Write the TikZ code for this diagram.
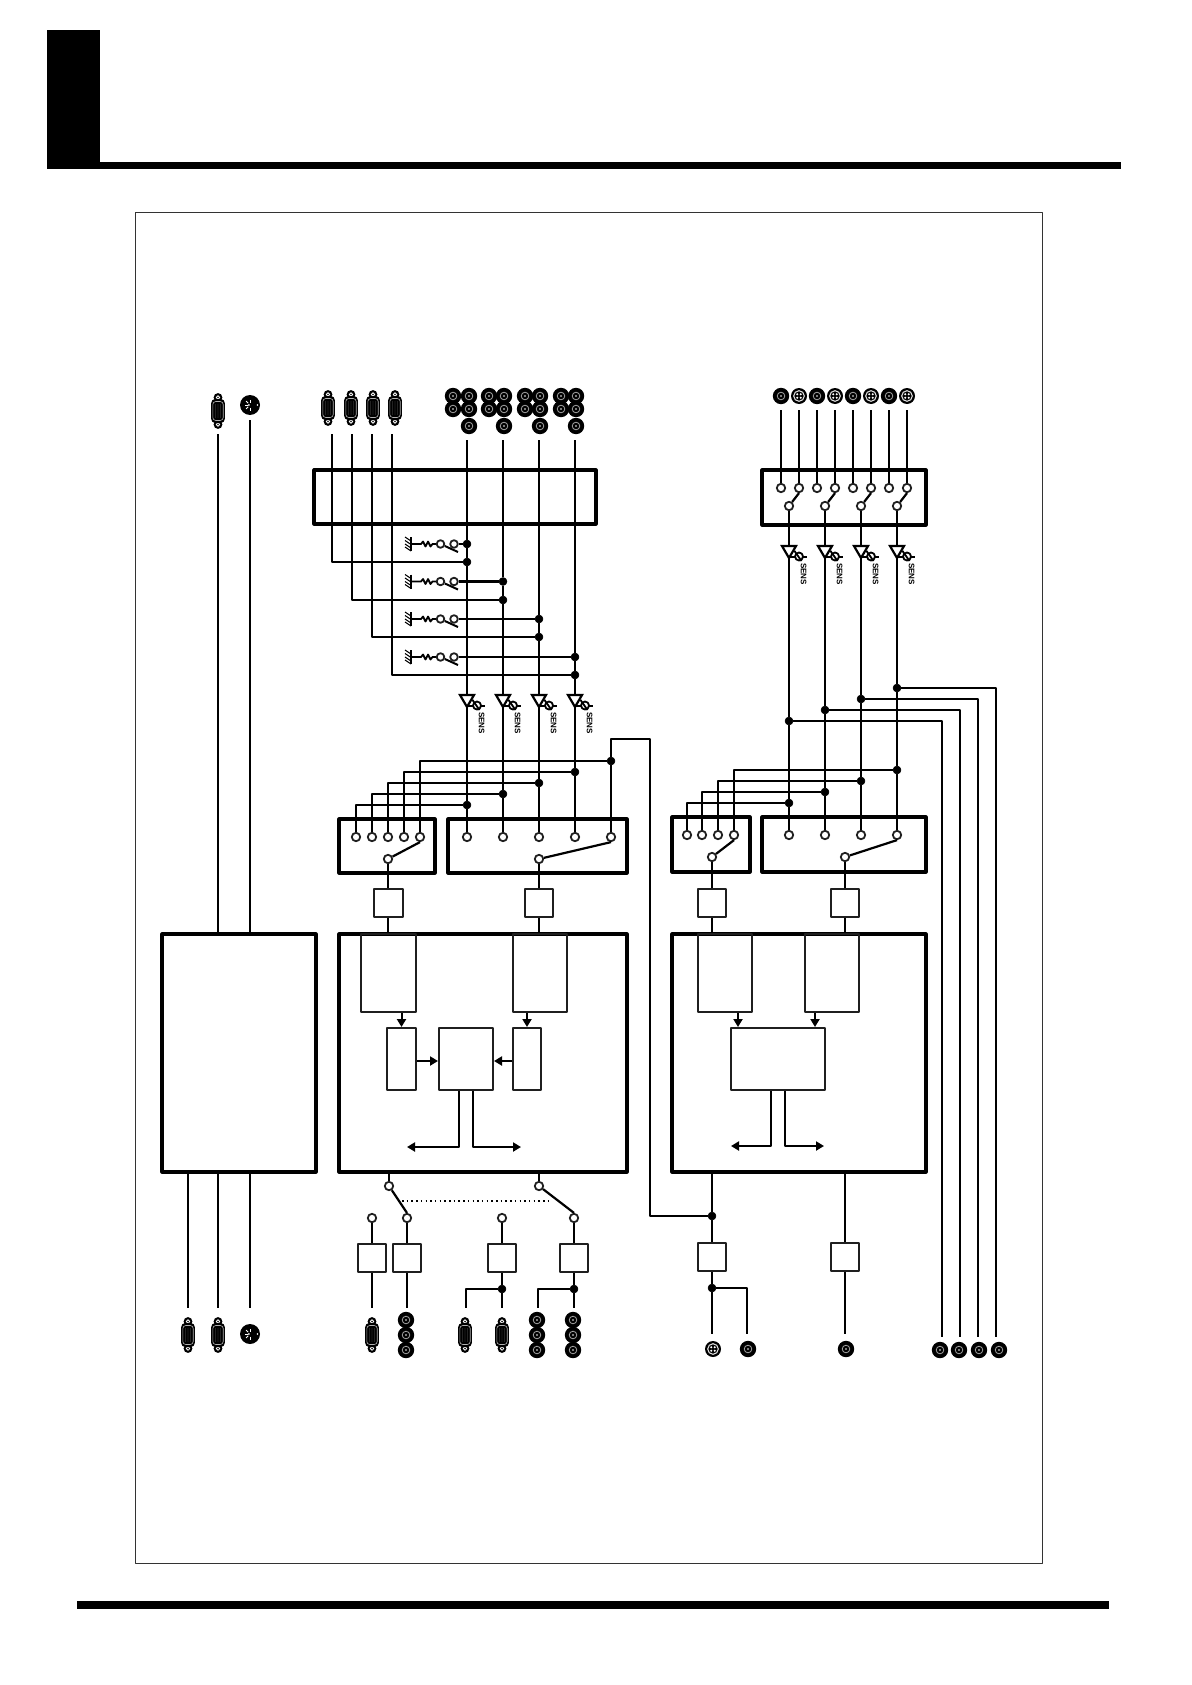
\documentclass[tikz,border=0pt]{standalone}
\usepackage{fontspec}
\setmainfont{Liberation Sans}
\usetikzlibrary{arrows.meta,calc}

\tikzset{
  wire/.style={line width=2.2pt},
  frame/.style={draw, line width=3.2pt, inner sep=0pt, line join=round},
  block/.style={draw=black!88, line width=2pt, inner sep=0pt},
  term/.style={circle, draw=black!88, line width=1.8pt, fill=white, inner sep=0pt, minimum size=8.4pt},
  dot/.style={circle, draw=black, fill=black, line width=.5pt, inner sep=0pt, minimum size=8pt},
  flow/.style={line width=2pt, -{Triangle[length=8pt,width=9pt]}},
  pics/dsub/.style={code={
    \fill (0,-13.5) circle (4.4); \fill (0,13.5) circle (4.4);
    \draw[white, line width=.8pt] (0,-13.5) circle (1.8); \draw[white, line width=.8pt] (0,13.5) circle (1.8);
    \fill[rounded corners=4pt] (-6.8,-12) rectangle (6.8,12);
    \draw[gray!60, line width=.6pt, rounded corners=3pt] (-5.2,-9.5) rectangle (5.2,9.5);
    \foreach \u in {-2.5,0,2.5} \foreach \v in {-6,-4,...,6} \fill[gray!80] (\u,\v) circle (.45);
  }},
  pics/midi/.style={code={
    \fill (0,0) circle (10);
    \foreach \a in {90,135,180,225,270} \draw[white, line width=1pt] (\a:2.5) -- (\a:5.5);
    \fill[white] (-1.2,0) circle (1);
    \fill[white] (7.5,0) circle (.8);
  }},
  pics/bnc/.style={code={
    \fill (0,0) circle (8.2);
    \draw[gray!70!white, line width=.8pt] (0,0) circle (3.8);
    \fill[gray!70!white] (0,0) circle (1.1);
  }},
  pics/combo/.style={code={
    \fill (0,0) circle (8);
    \draw[white!85!black, line width=1.1pt] (0,0) circle (5.3);
    \foreach \a in {45,135,225,315} \fill[white] (\a:2.5) circle (1.1);
  }},
  pics/sens/.style={code={
    % triangle points down, apex at 12 below the top edge
    \draw[wire, fill=white, line join=miter] (-7,0) -- (7,0) -- (0,12) -- cycle;
    \coordinate (-in) at (0,0);
    \coordinate (-out) at (0,12);
    \draw[line width=1.8pt] (0,11) -- (18,11);
    \draw[line width=1.8pt, fill=white] (10,10.5) circle (4);
    \draw[line width=1.8pt] (5.5,5) -- (12.5,15);
    \node[rotate=-90, font=\bfseries\fontsize{8}{9}\selectfont, inner sep=0pt] at (14.5,28) {SENS};
  }},
  pics/contact/.style={code={
    % ground hatch, spring and open contact
    \draw[line width=1.8pt, fill=gray!60] (0,-7) -- (0,7);
    \foreach \v in {-3,0.5,4,7} \draw[line width=1.1pt] (0,\v) -- (-6,\v-4);
    \draw[line width=1.8pt] (0,0) -- (10,0) -- ++(2,-2.5) -- ++(2.5,5) -- ++(2.5,-5) -- ++(2.5,5) -- ++(2,-2.5) -- (25.5,0);
    \node[term, minimum size=7.6pt] (-l) at (29.5,0) {};
    \node[term, minimum size=7.6pt] (-r) at (43,0) {};
    \draw[line width=2pt] (-l) -- (47,8);
  }},
}

\begin{document}
\begin{tikzpicture}[x=1pt, y=-1pt, line cap=butt, line join=round]
\useasboundingbox (0,0) rectangle (1191,1685);

% ---------- page furniture ----------
\fill (47,30) rectangle (100,168);
\fill (47,162) rectangle (1121,169);
\fill (77,1601) rectangle (1109,1609);
\draw[line width=.8pt, black!80] (135,212) rectangle (1042,1563);

% ---------- main boxes ----------
\node[frame, minimum width=154pt, minimum height=238pt] (ctrl) at (239,1053) {};
\node[frame, minimum width=282pt, minimum height=54pt] (patch) at (455,497) {};
\node[frame, minimum width=164pt, minimum height=55pt] (patchb) at (844,497.5) {};
\node[frame, minimum width=96pt, minimum height=54pt] (sela) at (387,846) {};
\node[frame, minimum width=179pt, minimum height=54pt] (selb) at (537.5,846) {};
\node[frame, minimum width=78pt, minimum height=55pt] (selc) at (711,844.5) {};
\node[frame, minimum width=164pt, minimum height=55pt] (seld) at (844,844.5) {};
\node[frame, minimum width=288pt, minimum height=238pt] (dspa) at (483,1053) {};
\node[frame, minimum width=254pt, minimum height=238pt] (dspb) at (799,1053) {};

% ---------- blocks inside first dsp ----------
\node[block, minimum width=55pt, minimum height=78pt] (fxa) at (388.5,973) {};
\node[block, minimum width=54pt, minimum height=78pt] (fxb) at (540,973) {};
\node[block, minimum width=29pt, minimum height=62pt] (cva) at (401.5,1059) {};
\node[block, minimum width=54pt, minimum height=62pt] (mixa) at (466,1059) {};
\node[block, minimum width=28pt, minimum height=62pt] (cvb) at (527,1059) {};
\draw[flow] (cva.north |- fxa.south) -- (cva.north);
\draw[flow] (cvb.north |- fxb.south) -- (cvb.north);
\draw[flow] (cva.east |- 0,1061) -- (mixa.west |- 0,1061);
\draw[flow] (cvb.west |- 0,1061) -- (mixa.east |- 0,1061);
\coordinate (busa) at (407,1147);
\coordinate (busb) at (521,1147);
\draw[flow] ([xshift=-7pt]mixa.south) |- (busa);
\draw[flow] ([xshift=7pt]mixa.south) |- (busb);

% ---------- blocks inside second dsp ----------
\node[block, minimum width=54pt, minimum height=78pt] (fxc) at (725,973) {};
\node[block, minimum width=54pt, minimum height=78pt] (fxd) at (832,973) {};
\node[block, minimum width=94pt, minimum height=62pt] (mixb) at (778,1059) {};
\draw[flow] ([xshift=-40pt]mixb.north |- fxc.south) -- ([xshift=-40pt]mixb.north);
\draw[flow] ([xshift=37pt]mixb.north |- fxd.south) -- ([xshift=37pt]mixb.north);
\coordinate (busc) at (731,1146);
\coordinate (busd) at (824,1146);
\draw[flow] ([xshift=-7pt]mixb.south) |- (busc);
\draw[flow] ([xshift=7pt]mixb.south) |- (busd);

% ---------- control unit connectors ----------
\pic at (218,411) {dsub};
\pic at (250,405) {midi};
\coordinate (ca) at (218,434);
\coordinate (cb) at (250,420);
\draw[wire] (ca) -- (ca |- ctrl.north);
\draw[wire] (cb) -- (cb |- ctrl.north);
\foreach \x in {188,218,250} {
  \coordinate (cc) at (\x,1308);
  \draw[wire] (cc |- ctrl.south) -- (cc);
}
\pic at (188,1335) {dsub};
\pic at (218,1335) {dsub};
\pic at (250,1334) {midi};

% ---------- input connectors, upper left ----------
\foreach \x in {328,351,373,395} \pic at (\x,408) {dsub};
\foreach \x in {453,489,525,561} {
  \pic at (\x,396) {bnc};
  \pic at (\x,409) {bnc};
}
\foreach \x in {469,504,540,576} {
  \pic at (\x,396) {bnc};
  \pic at (\x,409) {bnc};
  \pic at (\x,426) {bnc};
}

% ---------- selector terminals ----------
\foreach \i/\x in {1/356,2/372,3/388,4/404,5/420}
  \node[term] (sa\i) at (\x,837) {};
\foreach \i/\x in {1/467,2/503,3/539,4/575,5/611}
  \node[term] (sb\i) at (\x,837) {};
\node[term] (pa) at (388,859) {};
\node[term] (pb) at (539,859) {};
\draw[wire] (pa) -- (sa5.south);
\draw[wire] (pb) -- (sb5.south);

% ---------- input channels ----------
\foreach \i/\x/\ya/\yb/\s/\h in {1/467/544/562/332/805,2/503/581.5/600/352/794,3/539/619/637/372/783,4/575/657/675/392/772} {
  \coordinate (in\i) at (\x,440);
  \coordinate (xl\i) at (\s,434);
  \node[dot] (ja\i) at (\x,\ya) {};
  \node[dot] (jb\i) at (\x,\yb) {};
  \node[dot] (jc\i) at (\x,\h) {};
  \pic (ct\i) at (411,\ya) {contact};
  \pic (bf\i) at (\x,695) {sens};
  \draw[wire] (in\i) -- (ja\i) -- (jb\i) -- (bf\i-in);
  \draw[wire] (bf\i-out) -- (jc\i) -- (sb\i);
  \draw[wire] (xl\i) |- (jb\i);
  \draw[wire] (ct\i-r) -- (ja\i);
  \draw[wire] (sa\i) |- (jc\i);
}
\node[dot] (jc5) at (611,761) {};
\draw[wire] (sa5) |- (jc5);
\draw[wire] (sb5) -- (jc5);

% ---------- loop to second dsp ----------
\node[dot] (jd) at (712,1216) {};
\coordinate (lp) at (650,739);
\draw[wire] (jc5) |- (lp) -- (lp |- jd) -- (jd);

% ---------- converters above first dsp ----------
\node[block, minimum width=29pt, minimum height=28pt] (ada) at (388,903) {};
\node[block, minimum width=28pt, minimum height=28pt] (adb) at (539,903) {};
\draw[wire] (pa) -- (ada) -- (ada |- dspa.north);
\draw[wire] (pb) -- (adb) -- (adb |- dspa.north);

% ---------- switch below first dsp ----------
\node[term] (sc) at (389,1186) {};
\node[term] (sd) at (539,1186) {};
\draw[wire] (sc |- dspa.south) -- (sc);
\draw[wire] (sd |- dspa.south) -- (sd);
\foreach \i/\x in {1/372,2/407,3/502,4/574} {
  \node[term] (se\i) at (\x,1218) {};
  \node[block, minimum width=28pt, minimum height=28pt] (io\i) at (\x,1258) {};
  \coordinate (ou\i) at (\x,1308);
  \draw[wire] (se\i) -- (io\i);
}
\draw[wire] (sc) -- (se2.north);
\draw[wire] (sd) -- (se4.north);
\coordinate (ga) at (402,1201);
\coordinate (gb) at (550,1201);
\draw[line width=1.5pt, dash pattern=on 1.5pt off 3.2pt] (ga) -- (gb);
\draw[wire] (io1) -- (ou1);
\draw[wire] (io2) -- (ou2);
\node[dot] (je) at (502,1289) {};
\node[dot] (jf) at (574,1289) {};
\coordinate (oe) at (466,1308);
\coordinate (of) at (538,1308);
\draw[wire] (io3) -- (je) -- (ou3);
\draw[wire] (io4) -- (jf) -- (ou4);
\draw[wire] (je) -| (oe);
\draw[wire] (jf) -| (of);

\pic at (372,1335) {dsub};
\foreach \y in {1320,1335,1350} {
  \pic at (406,\y) {bnc};
  \pic at (537,\y) {bnc};
  \pic at (573,\y) {bnc};
}
\pic at (465,1335) {dsub};
\pic at (502,1335) {dsub};

% ---------- right hand inputs ----------
\foreach \i/\x/\k in {1/781/bnc,2/799/combo,3/817/bnc,4/835/combo,5/853/bnc,6/871/combo,7/889/bnc,8/907/combo} {
  \pic at (\x,396) {\k};
  \coordinate (ti\i) at (\x,410);
  \node[term] (si\i) at (\x,488) {};
  \draw[wire] (ti\i) -- (si\i);
}
\foreach \i/\x/\t in {1/789/2,2/825/4,3/861/6,4/897/8} {
  \node[term] (pi\i) at (\x,506) {};
  \draw[wire] (pi\i) -- (si\t.south);
}

% ---------- right hand channels ----------
\foreach \i/\x in {1/687,2/702,3/718,4/734} \node[term] (sj\i) at (\x,835) {};
\foreach \i/\x in {1/789,2/825,3/861,4/897} \node[term] (sk\i) at (\x,835) {};
\node[term] (pc) at (712,857) {};
\node[term] (pd) at (845,857) {};
\draw[wire] (pc) -- (sj4.south);
\draw[wire] (pd) -- (sk4.south);
\foreach \i/\x/\ya/\hx/\h/\oy in {1/789/721/942/803/1337,2/825/710/960/792/1337,3/861/699/978/781/1337,4/897/688/996/770/1337} {
  \pic (bg\i) at (\x,546) {sens};
  \node[dot] (jg\i) at (\x,\ya) {};
  \node[dot] (jh\i) at (\x,\h) {};
  \coordinate (oh\i) at (\hx,\oy);
  \draw[wire] (pi\i) -- (bg\i-in);
  \draw[wire] (bg\i-out) -- (jg\i) -- (jh\i) -- (sk\i);
  \draw[wire] (jg\i) -| (oh\i);
  \draw[wire] (sj\i) |- (jh\i);
}
\foreach \x in {940,959,979,999} \pic at (\x,1350) {bnc};

% ---------- converters round second dsp ----------
\node[block, minimum width=28pt, minimum height=28pt] (adc) at (712,903) {};
\node[block, minimum width=28pt, minimum height=28pt] (add) at (845,903) {};
\draw[wire] (pc) -- (adc) -- (adc |- dspb.north);
\draw[wire] (pd) -- (add) -- (add |- dspb.north);
\node[block, minimum width=28pt, minimum height=28pt] (dae) at (712,1257) {};
\node[block, minimum width=28pt, minimum height=28pt] (daf) at (845,1257) {};
\node[dot] (jk) at (712,1288) {};
\coordinate (ok) at (712,1334);
\coordinate (ol) at (747,1334);
\coordinate (om) at (845,1334);
\draw[wire] (jd |- dspb.south) -- (jd) -- (dae) -- (jk) -- (ok);
\draw[wire] (jk) -| (ol);
\draw[wire] (daf |- dspb.south) -- (daf) -- (om);
\pic at (713,1349) {combo};
\pic at (748,1349) {bnc};
\pic at (846,1349) {bnc};

\end{tikzpicture}
\end{document}
